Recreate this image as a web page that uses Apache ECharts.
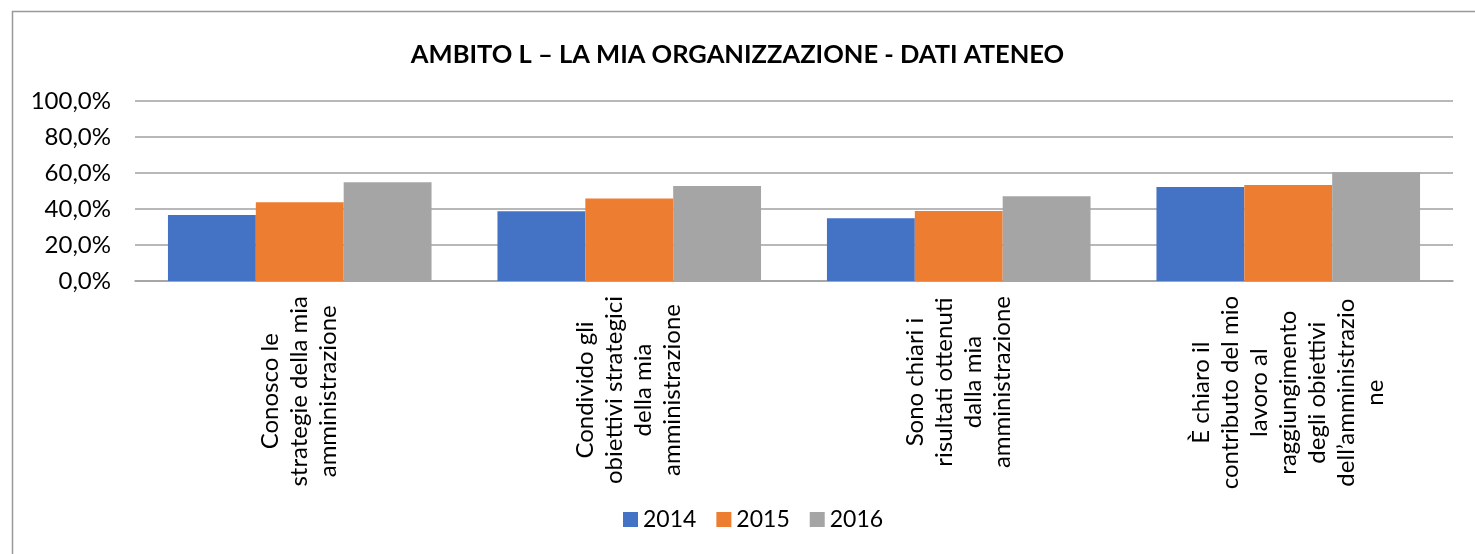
<!DOCTYPE html>
<html>
<head>
<meta charset="utf-8">
<script src="https://cdn.jsdelivr.net/npm/echarts@6/dist/echarts.min.js"></script>
<style>
  html, body { margin: 0; padding: 0; background: #fff; overflow: hidden; }
  #chart { width: 1475px; height: 554px; }
</style>
</head>
<body>
<div id="chart"></div>
<script>
// categorie (a capo come nell'originale)
var categories = [
  'Conosco le\nstrategie della mia\namministrazione',
  'Condivido gli\nobiettivi strategici\ndella mia\namministrazione',
  'Sono chiari i\nrisultati ottenuti\ndalla mia\namministrazione',
  'È chiaro il\ncontributo del mio\nlavoro al\nraggiungimento\ndegli obiettivi\ndell’amministrazio\nne'
]
var years = ['2014', '2015', '2016']
var values2014 = [36.7, 38.7, 34.8, 52.2]
var values2015 = [43.7, 45.8, 38.9, 53.3]
var values2016 = [54.8, 52.8, 47.1, 60.4]
var colors = ['#4472C4', '#ED7D31', '#A5A5A5']

var FONT = 'Lato'
var chart = echarts.init(document.getElementById('chart'))

var option = {
  animation: false,
  color: colors,
  textStyle: { fontFamily: FONT, color: '#000' },
  title: {
    text: 'AMBITO L – LA MIA ORGANIZZAZIONE - DATI ATENEO',
    left: 'center',
    top: 37,
    textStyle: { fontFamily: FONT, fontSize: 25.5, fontWeight: 'bold', color: '#000' }
  },
  graphic: [{
    type: 'rect',
    shape: { x: 12.5, y: 11.5, width: 2000, height: 1000 },
    style: { fill: 'none', stroke: '#999', lineWidth: 1.5 },
    silent: true
  }],
  legend: {
    bottom: 18,
    left: 618,
    icon: 'rect',
    itemWidth: 15,
    itemHeight: 15,
    itemGap: 20,
    data: years,
    textStyle: { fontFamily: FONT, fontSize: 23, color: '#000' }
  },
  grid: { left: 135, right: 22, top: 101, bottom: 273 },
  xAxis: {
    type: 'category',
    data: categories,
    axisTick: { show: false },
    axisLine: { lineStyle: { color: '#a0a0a0', width: 1.5 } },
    axisLabel: {
      interval: 0,
      rotate: 90,
      margin: 15,
      hideOverlap: false,
      formatter: function (v) {
        return v.split('\n').map(function (l) { return '{c|' + l + '}' }).join('\n')
      },
      rich: {
        c: { align: 'center', fontFamily: FONT, fontSize: 24, lineHeight: 29, color: '#000' }
      }
    }
  },
  yAxis: {
    type: 'value',
    min: 0,
    max: 100,
    interval: 20,
    axisLine: { show: false },
    axisTick: { show: false },
    splitLine: { lineStyle: { color: '#a0a0a0', width: 1.5 } },
    axisLabel: {
      margin: 24,
      fontFamily: FONT,
      fontSize: 24,
      color: '#000',
      formatter: function (v) { return v.toFixed(1).replace('.', ',') + '%' }
    }
  },
  series: [
    { name: years[0], type: 'bar', data: values2014, barGap: '0%', barCategoryGap: '20%' },
    { name: years[1], type: 'bar', data: values2015, barGap: '0%', barCategoryGap: '20%' },
    { name: years[2], type: 'bar', data: values2016, barGap: '0%', barCategoryGap: '20%' }
  ]
}

chart.setOption(option)
</script>
</body>
</html>
